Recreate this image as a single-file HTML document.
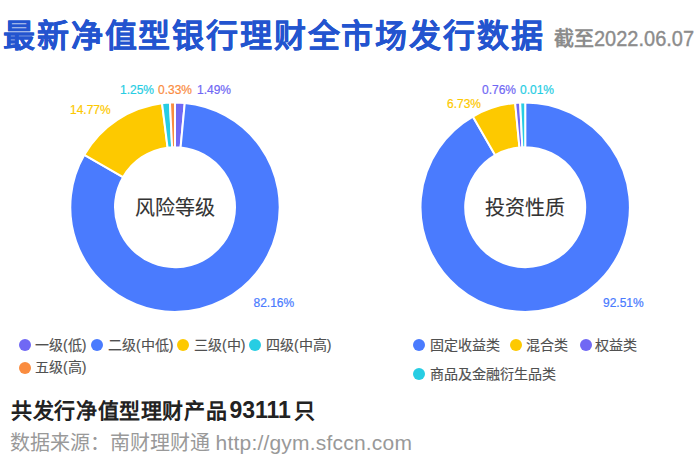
<!DOCTYPE html>
<html lang="zh-CN"><head><meta charset="utf-8">
<style>
html,body{margin:0;padding:0;background:#fff;}
body{width:700px;height:465px;position:relative;overflow:hidden;font-family:"Liberation Sans",sans-serif;}
.a{position:absolute;white-space:nowrap;line-height:1;}
.title{left:3px;top:19.5px;font-size:32px;letter-spacing:1.85px;font-weight:bold;color:#2354cf;-webkit-text-stroke:0.15px #2354cf;}
.date{left:554px;top:29px;font-size:20px;font-weight:bold;color:#8c8c8c;}
.dg{display:inline-block;font-weight:normal;-webkit-text-stroke:0.35px #8c8c8c;transform:scaleY(1.08);transform-origin:0 80%;}
.lbl{font-size:12px;-webkit-text-stroke:0.2px currentColor;}
.ctr{font-size:20px;color:#333;-webkit-text-stroke:0.1px #333;}
.lg{font-size:14px;color:#505050;-webkit-text-stroke:0.15px #505050;}
.dot{position:absolute;width:12px;height:12px;border-radius:50%;}
.sum{left:11px;top:399px;font-size:21px;letter-spacing:0.64px;font-weight:bold;color:#222;}
.n{font-size:23px;letter-spacing:0;-webkit-text-stroke:0;margin-left:2px;margin-right:3.5px;}
.src{left:10px;top:432px;font-size:20px;color:#999;}
.url{font-size:21px;letter-spacing:0.2px;}
svg{position:absolute;left:0;top:0;}
</style></head><body>
<svg width="700" height="465" viewBox="0 0 700 465"><path d="M175.00,102.50 A104.7,104.7 0 0 1 184.78,102.96 L180.60,147.46 A60.0,60.0 0 0 0 175.00,147.20 Z" fill="#7068f4" stroke="#fff" stroke-width="2" stroke-linejoin="round"/><path d="M184.78,102.96 A104.7,104.7 0 1 1 84.33,154.85 L123.04,177.20 A60.0,60.0 0 1 0 180.60,147.46 Z" fill="#4a7bfe" stroke="#fff" stroke-width="2" stroke-linejoin="round"/><path d="M84.33,154.85 A104.7,104.7 0 0 1 162.06,103.30 L167.58,147.66 A60.0,60.0 0 0 0 123.04,177.20 Z" fill="#fdc900" stroke="#fff" stroke-width="2" stroke-linejoin="round"/><path d="M162.06,103.30 A104.7,104.7 0 0 1 169.96,102.62 L172.11,147.27 A60.0,60.0 0 0 0 167.58,147.66 Z" fill="#27cde3" stroke="#fff" stroke-width="2" stroke-linejoin="round"/><path d="M169.96,102.62 A104.7,104.7 0 0 1 175.00,102.50 L175.00,147.20 A60.0,60.0 0 0 0 172.11,147.27 Z" fill="#fa8c3f" stroke="#fff" stroke-width="2" stroke-linejoin="round"/><path d="M525.20,102.50 A104.7,104.7 0 1 1 472.85,116.53 L495.20,155.24 A60.0,60.0 0 1 0 525.20,147.20 Z" fill="#4a7bfe" stroke="#fff" stroke-width="2" stroke-linejoin="round"/><path d="M472.85,116.53 A104.7,104.7 0 0 1 515.16,102.98 L519.45,147.48 A60.0,60.0 0 0 0 495.20,155.24 Z" fill="#fdc900" stroke="#fff" stroke-width="2" stroke-linejoin="round"/><path d="M515.16,102.98 A104.7,104.7 0 0 1 520.18,102.62 L522.32,147.27 A60.0,60.0 0 0 0 519.45,147.48 Z" fill="#7068f4" stroke="#fff" stroke-width="2" stroke-linejoin="round"/><path d="M520.18,102.62 A104.7,104.7 0 0 1 525.20,102.50 L525.20,147.20 A60.0,60.0 0 0 0 522.32,147.27 Z" fill="#27cde3" stroke="#fff" stroke-width="2" stroke-linejoin="round"/></svg>
<div class="a title">最新净值型银行理财全市场发行数据</div>
<div class="a date">截至<span class="dg">2022.06.07</span></div>

<div class="a lbl" style="left:120px;top:84px;color:#27cde3">1.25%</div>
<div class="a lbl" style="left:158px;top:84px;color:#fa8c3f">0.33%</div>
<div class="a lbl" style="left:197px;top:84px;color:#7068f4">1.49%</div>
<div class="a lbl" style="left:70px;top:104px;color:#fdc900">14.77%</div>
<div class="a lbl" style="left:253.5px;top:297px;color:#4a7bfe">82.16%</div>

<div class="a lbl" style="left:482px;top:84px;color:#7068f4">0.76%</div>
<div class="a lbl" style="left:520px;top:84px;color:#27cde3">0.01%</div>
<div class="a lbl" style="left:447px;top:98px;color:#fdc900">6.73%</div>
<div class="a lbl" style="left:603px;top:297px;color:#4a7bfe">92.51%</div>

<div class="a ctr" style="left:135px;top:197.9px">风险等级</div>
<div class="a ctr" style="left:485px;top:197.9px">投资性质</div>

<div class="dot" style="left:18.5px;top:338.9px;background:#7068f4"></div>
<div class="a lg" style="left:35px;top:337.8px">一级(低)</div>
<div class="dot" style="left:91px;top:338.9px;background:#4a7bfe"></div>
<div class="a lg" style="left:108px;top:337.8px">二级(中低)</div>
<div class="dot" style="left:177px;top:338.9px;background:#fdc900"></div>
<div class="a lg" style="left:194px;top:337.8px">三级(中)</div>
<div class="dot" style="left:249px;top:338.9px;background:#27cde3"></div>
<div class="a lg" style="left:266px;top:337.8px">四级(中高)</div>
<div class="dot" style="left:18.5px;top:362px;background:#fa8c3f"></div>
<div class="a lg" style="left:35px;top:360.1px">五级(高)</div>

<div class="dot" style="left:412.5px;top:338.9px;background:#4a7bfe"></div>
<div class="a lg" style="left:430px;top:337.8px">固定收益类</div>
<div class="dot" style="left:509.5px;top:338.9px;background:#fdc900"></div>
<div class="a lg" style="left:526px;top:337.8px">混合类</div>
<div class="dot" style="left:579.5px;top:338.9px;background:#7068f4"></div>
<div class="a lg" style="left:595px;top:337.8px">权益类</div>
<div class="dot" style="left:412.5px;top:367.5px;background:#27cde3"></div>
<div class="a lg" style="left:430px;top:366.6px">商品及金融衍生品类</div>

<div class="a sum">共发行净值型理财产品<span class="n">93111</span>只</div>
<div class="a src">数据来源：南财理财通 <span class="url">http://gym.sfccn.com</span></div>
</body></html>
